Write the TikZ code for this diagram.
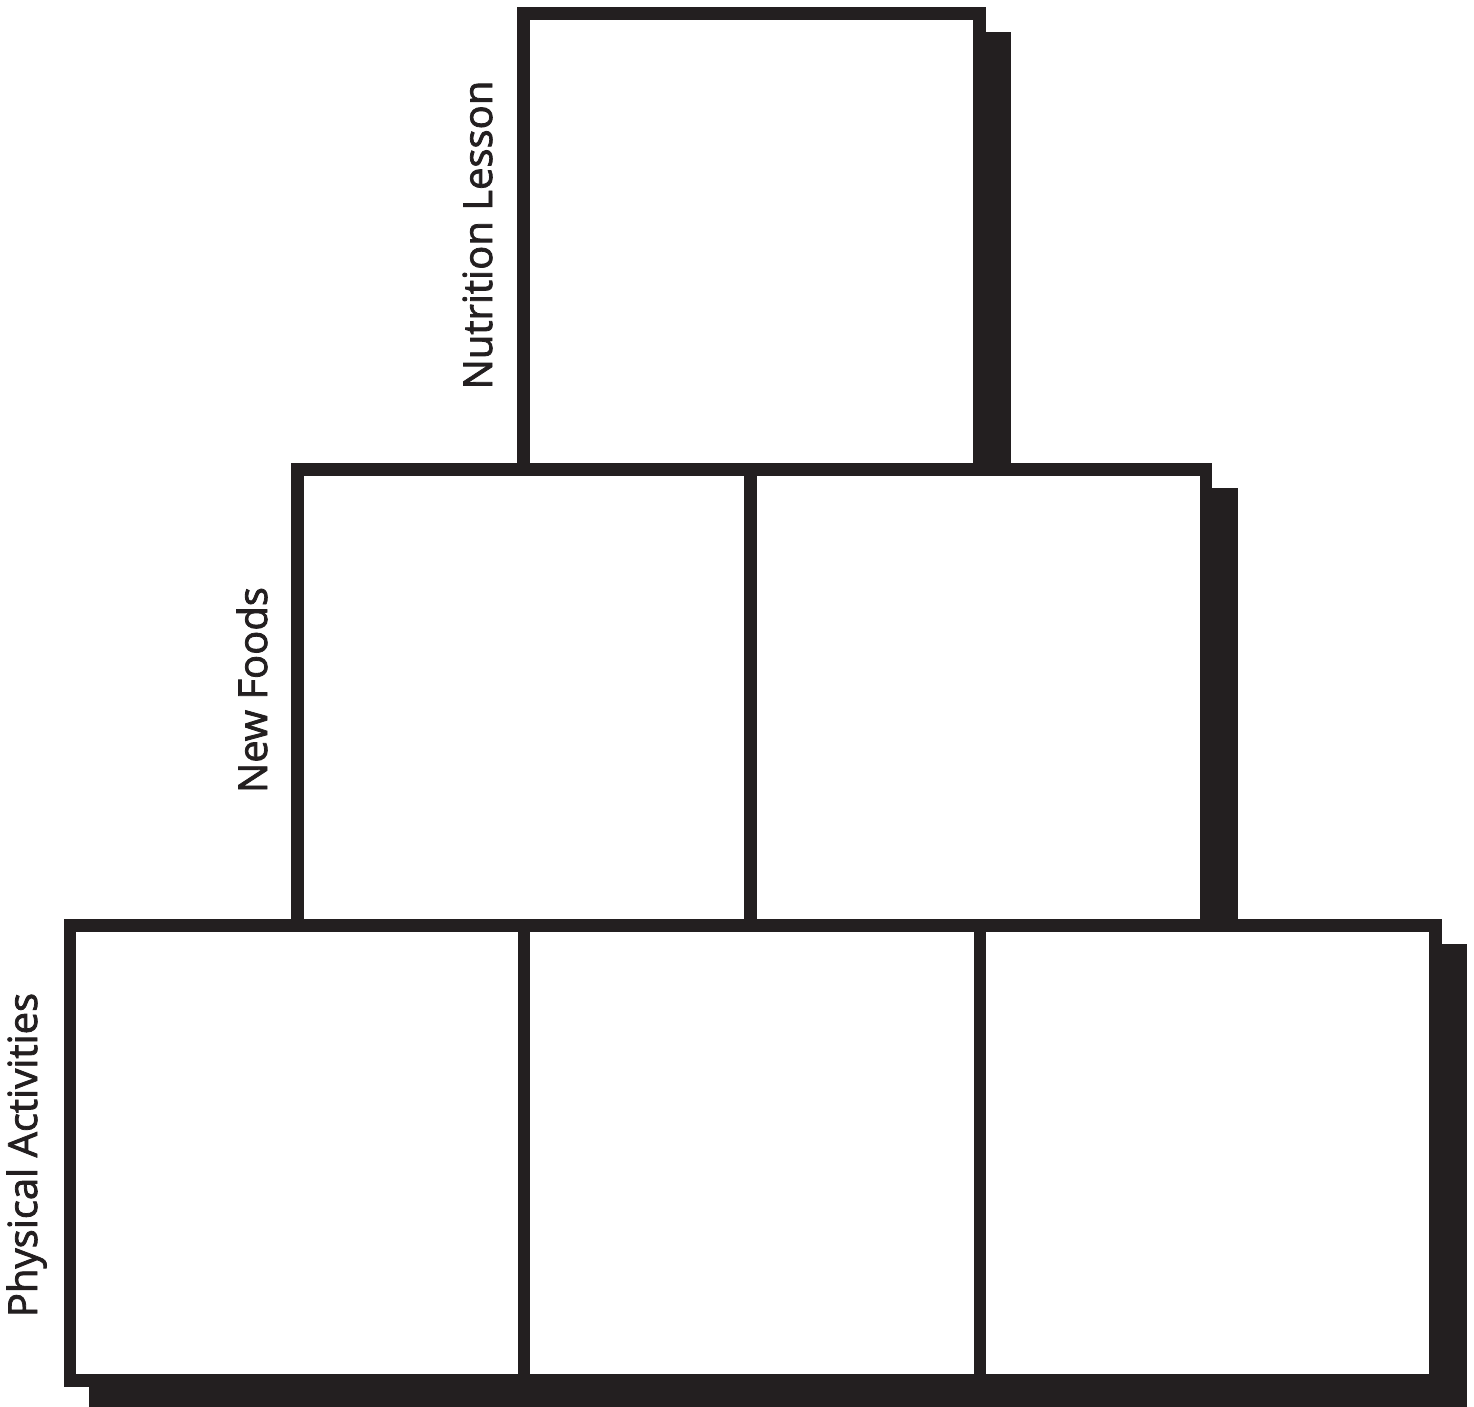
\documentclass[tikz,border=0pt]{standalone}
\usepackage{fontspec}
\setmainfont{Open Sans}
\newfontfamily\lblfont[FakeBold=2]{Open Sans}
\definecolor{ink}{HTML}{231F20}
\begin{document}
\begin{tikzpicture}[x=0.5pt,y=-0.5pt,
  shadow/.style={fill=ink,draw=none},
  cell/.style={draw=ink,fill=white,line width=6.35pt,line join=miter},
  lbl/.style={rotate=90,anchor=base,text=ink,font=\lblfont\fontsize{20}{24}\selectfont,inner sep=0pt}]
\useasboundingbox (0,0) rectangle (1474,1407);
% shadows
\fill[shadow] (542.3,32.3) rectangle (1010.7,492);
\fill[shadow] (316,488.3) rectangle (1237.5,947);
\fill[shadow] (88.5,944) rectangle (1466.5,1412);
% top box
\draw[cell] (523.7,13.7) rectangle (979.3,469.7);
% middle row
\draw[cell] (297.3,469.7) rectangle (750.7,925.7);
\draw[cell] (750.7,469.7) rectangle (1206,925.7);
% bottom row
\draw[cell] (70,925.7) rectangle (524,1380.8);
\draw[cell] (524,925.7) rectangle (980,1380.8);
\draw[cell] (980,925.7) rectangle (1435.3,1380.8);
% labels
\node[lbl] (nut) at (492,235) {Nutrition Lesson};
\node[lbl] (nf) at (267,690) {New Foods};
\node[lbl] (pa) at (37,1155) {Physical Activities};
\end{tikzpicture}
\end{document}
